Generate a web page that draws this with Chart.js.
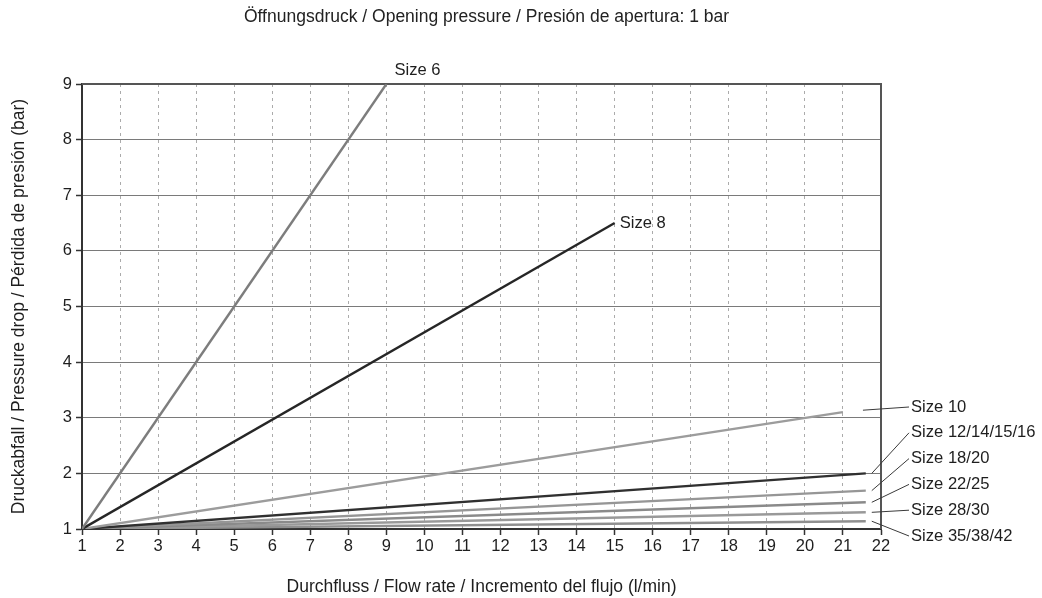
<!DOCTYPE html>
<html>
<head>
<meta charset="utf-8">
<script src="https://cdn.jsdelivr.net/npm/chart.js@4"></script>
<style>
  body { margin: 0; background: #fff; }
  #wrap { width: 1042px; height: 598px; }
</style>
</head>
<body>
<div id="wrap"><canvas id="pressureChart"></canvas></div>
<script>
// Valve curves: all start at the opening pressure (1 bar at 1 l/min)
const sizeNames = [
  "Size 6",
  "Size 8",
  "Size 10",
  "Size 12/14/15/16",
  "Size 18/20",
  "Size 22/25",
  "Size 28/30",
  "Size 35/38/42",
];
const startFlow = 1;
const startDrop = 1;
const endFlow = [9, 15, 21, 21.6, 21.6, 21.6, 21.6, 21.6];
const endDrop = [9, 6.5, 3.1, 2.0, 1.69, 1.48, 1.3, 1.14];

const xTicks = [1, 22];
const yTicks = [1, 9];

const lineColors = ["#7d7d7d", "#262626", "#9c9c9c", "#303030", "#969696", "#8a8a8a", "#999999", "#8f8f8f"];

const titleText = "Öffnungsdruck / Opening pressure / Presión de apertura: 1 bar";
const xTitle = "Durchfluss / Flow rate / Incremento del flujo (l/min)";
const yTitle = "Druckabfall / Pressure drop / Pérdida de presión (bar)";

const FONT = "'Liberation Sans', Arial, sans-serif";

const datasets = sizeNames.map((name, i) => ({
  label: name,
  data: [
    { x: startFlow, y: startDrop },
    { x: endFlow[i], y: endDrop[i] },
  ],
  borderColor: lineColors[i],
  borderWidth: 2.4,
  pointRadius: 0,
  fill: false,
  tension: 0,
}));

// frame on top/right + chart heading
const framePlugin = {
  id: "frame",
  beforeDatasetsDraw(chart) {
    const { ctx, chartArea: a } = chart;
    ctx.save();
    ctx.strokeStyle = "#555";
    ctx.lineWidth = 2;
    ctx.beginPath();
    ctx.moveTo(a.left, a.top);
    ctx.lineTo(a.right, a.top);
    ctx.lineTo(a.right, a.bottom);
    ctx.stroke();
    ctx.restore();
  },
  afterDraw(chart) {
    const { ctx, chartArea: a } = chart;
    ctx.save();
    ctx.fillStyle = "#222";
    ctx.font = "17.5px " + FONT;
    ctx.textAlign = "center";
    ctx.textBaseline = "middle";
    ctx.fillText(titleText, (a.left + a.right) / 2 + 5, 17);
    ctx.restore();
  },
};

// size labels: first two sit at the line end, the rest are stacked on the right with leaders
const labelPlugin = {
  id: "sizeLabels",
  afterDatasetsDraw(chart) {
    const { ctx, chartArea: a, scales } = chart;
    const xs = scales.x, ys = scales.y;
    ctx.save();
    ctx.font = "16.6px " + FONT;
    ctx.fillStyle = "#1e1e1e";
    ctx.textBaseline = "middle";
    ctx.textAlign = "left";

    // Size 6, Size 8
    const inline = [[8, -14], [5, 0]];
    inline.forEach((off, i) => {
      const px = xs.getPixelForValue(endFlow[i]);
      const py = ys.getPixelForValue(endDrop[i]);
      ctx.fillText(sizeNames[i], px + off[0], py + off[1]);
    });

    // stacked labels
    const labelX = a.right + 30;
    const firstY = a.bottom - 122;
    const step = 25.8;
    ctx.strokeStyle = "#3a3a3a";
    ctx.lineWidth = 1;
    for (let i = 2; i < sizeNames.length; i++) {
      const ly = firstY + (i - 2) * step;
      const px = xs.getPixelForValue(endFlow[i]) + (i === 2 ? 20 : 6);
      const py = ys.getPixelForValue(endDrop[i]) - (i === 2 ? 2 : 0);
      ctx.beginPath();
      ctx.moveTo(px, py);
      ctx.lineTo(labelX - 2, ly);
      ctx.stroke();
      ctx.fillText(sizeNames[i], labelX, ly);
    }
    ctx.restore();
  },
};

new Chart(document.getElementById("pressureChart"), {
  type: "line",
  data: { datasets },
  plugins: [framePlugin, labelPlugin],
  options: {
    responsive: true,
    maintainAspectRatio: false,
    animation: false,
    devicePixelRatio: 1,
    layout: { padding: { top: 84, right: 161, left: 0, bottom: 0 } },
    plugins: {
      legend: { display: false },
      tooltip: { enabled: false },
    },
    scales: {
      x: {
        type: "linear",
        min: xTicks[0],
        max: xTicks[1],
        afterFit(scale) { scale.height = 69; },
        ticks: {
          stepSize: 1,
          color: "#1e1e1e",
          padding: 2,
          font: { family: FONT, size: 16.5 },
        },
        grid: {
          color: "#ababab",
          lineWidth: 1,
          tickColor: "#333",
          tickLength: 6,
          tickWidth: 1.5,
        },
        border: { display: true, color: "#333", width: 2, dash: [3, 4] },
        title: {
          display: true,
          text: xTitle,
          color: "#1e1e1e",
          font: { family: FONT, size: 17.5 },
          padding: { top: 0, bottom: 0 },
        },
      },
      y: {
        min: yTicks[0],
        max: yTicks[1],
        afterFit(scale) { scale.width = 82; },
        ticks: {
          stepSize: 1,
          color: "#1e1e1e",
          padding: 4,
          font: { family: FONT, size: 16.5 },
        },
        grid: {
          color: "#7a7a7a",
          lineWidth: 1,
          tickColor: "#333",
          tickLength: 6,
          tickWidth: 1.5,
        },
        border: { display: true, color: "#333", width: 2 },
        title: {
          display: true,
          text: yTitle,
          color: "#1e1e1e",
          font: { family: FONT, size: 17.5 },
          padding: { top: 9, bottom: 0 },
        },
      },
    },
  },
});
</script>
</body>
</html>
